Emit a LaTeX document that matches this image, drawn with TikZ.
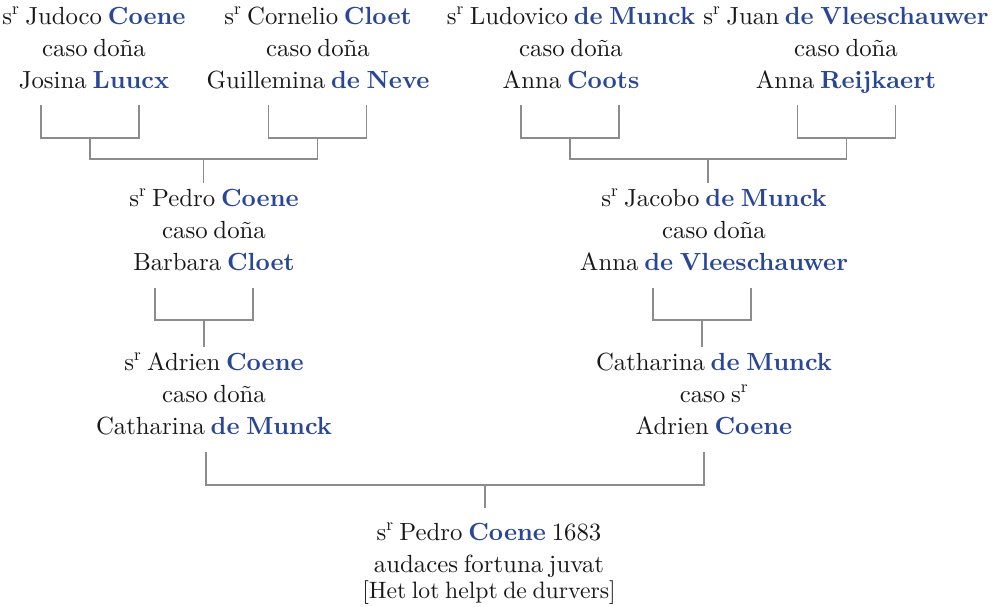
\documentclass[tikz,border=0pt]{standalone}
\usepackage{fontspec}
\setmainfont{lmroman10-regular.otf}[BoldFont=lmroman10-bold.otf,WordSpace=0.7]
\usetikzlibrary{calc}
\definecolor{ink}{RGB}{25,23,23}
\definecolor{surname}{RGB}{42,70,150}
\definecolor{rulegray}{RGB}{140,140,140}
\newcommand\surn[1]{\textbf{\textcolor{surname}{#1}}}
\newcommand\sir{s\textsuperscript{r}}
\newcommand\famlines[1]{\begin{tabular}[t]{@{}c@{}}#1\end{tabular}}
\begin{document}
\begin{tikzpicture}[x=1pt,y=-1pt,
  person/.style={anchor=base,inner sep=0pt,text=ink,font=\fontsize{24.8}{32}\selectfont},
  conn/.style={draw=rulegray,line width=1.3pt}]
\useasboundingbox (0,0) rectangle (998,606);
% persons
\node[person] (a1) at (94,24) {\famlines{\sir{} Judoco \surn{Coene}\\ caso doña\\ Josina \surn{Luucx}}};
\node[person] (a2) at (318,24) {\famlines{\sir{} Cornelio \surn{Cloet}\\ caso doña\\ Guillemina \surn{de Neve}}};
\node[person] (a3) at (571,24) {\famlines{\sir{} Ludovico \surn{de Munck}\\ caso doña\\ Anna \surn{Coots}}};
\node[person] (a4) at (846,24) {\famlines{\sir{} Juan \surn{de Vleeschauwer}\\ caso doña\\ Anna \surn{Reijkaert}}};
\node[person] (b1) at (214,206) {\famlines{\sir{} Pedro \surn{Coene}\\ caso doña\\ Barbara \surn{Cloet}}};
\node[person] (b2) at (714,206) {\famlines{\sir{} Jacobo \surn{de Munck}\\ caso doña\\ Anna \surn{de Vleeschauwer}}};
\node[person] (c1) at (214,370) {\famlines{\sir{} Adrien \surn{Coene}\\ caso doña\\ Catharina \surn{de Munck}}};
\node[person] (c2) at (714,370) {\famlines{Catharina \surn{de Munck}\\ caso \sir\\ Adrien \surn{Coene}}};
\node[person] (d) at (489,540) {\famlines{\sir{} Pedro \surn{Coene} 1683\\ audaces fortuna juvat\\[-5.5pt] {\fontsize{23.7}{26}\selectfont [Het lot helpt de durvers]}}};
% top brackets
\coordinate (a1c) at (90,138);
\coordinate (a2c) at (317.5,138);
\coordinate (a3c) at (570,138);
\coordinate (a4c) at (846.5,138);
\draw[conn] ($(a1c)+(-49,-33)$) |- ($(a1c)+(49,0)$) -- ++(0,-33);
\draw[conn] ($(a2c)+(-49,-33)$) |- ($(a2c)+(49,0)$) -- ++(0,-33);
\draw[conn] ($(a3c)+(-49,-33)$) |- ($(a3c)+(49,0)$) -- ++(0,-33);
\draw[conn] ($(a4c)+(-49,-33)$) |- ($(a4c)+(49,0)$) -- ++(0,-33);
\coordinate (jA) at (203.5,159);
\coordinate (jB) at (708,159);
\draw[conn] (a1c) -- (a1c |- jA) -- (a2c |- jA) -- (a2c);
\draw[conn] (jA) -- (jA |- b1.north);
\draw[conn] (a3c) -- (a3c |- jB) -- (a4c |- jB) -- (a4c);
\draw[conn] (jB) -- (jB |- b2.north);
% middle brackets
\coordinate (b1c) at (204,320);
\coordinate (b2c) at (702,320);
\draw[conn] ($(b1c)+(-49,-32)$) |- ($(b1c)+(49,0)$) -- ++(0,-32);
\draw[conn] ($(b2c)+(-49,-32)$) |- ($(b2c)+(49,0)$) -- ++(0,-32);
\draw[conn] (b1c) -- (b1c |- c1.north);
\draw[conn] (b2c) -- (b2c |- c2.north);
% bottom bracket
\coordinate (c1c) at (206,485);
\coordinate (c2c) at (704,485);
\coordinate (jD) at (485,485);
\draw[conn] ($(c1c)+(0,-33)$) -- (c1c) -- (c2c) -- ++(0,-33);
\draw[conn] (jD) -- ($(jD |- d.north)+(0,-9)$);
\end{tikzpicture}
\end{document}
